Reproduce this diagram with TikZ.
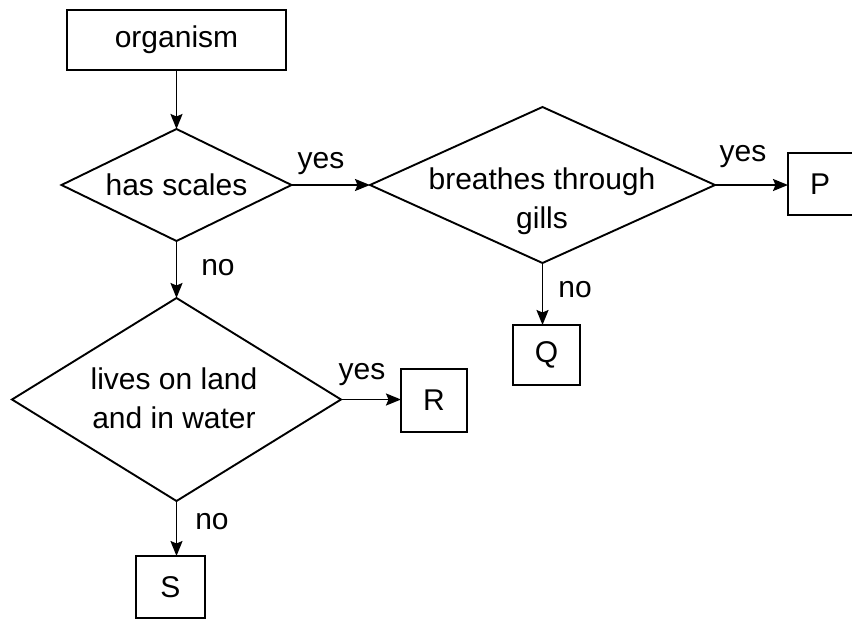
\documentclass[tikz,border=0pt]{standalone}
\usepackage{fontspec}
\setmainfont{Liberation Sans}
\usetikzlibrary{shapes.geometric,arrows.meta}
\begin{document}
\begin{tikzpicture}[x=1pt,y=-1pt,
  every node/.style={font=\fontsize{30pt}{39pt}\selectfont},
  box/.style={draw,line width=1.9pt,inner sep=0pt,outer sep=0pt},
  decision/.style={draw,diamond,line width=1.9pt,inner sep=0pt,outer sep=0pt},
  dtext/.style={align=center,inner sep=0pt},
  lab/.style={inner sep=0pt},
  conn/.style={line width=1.9pt,-{Stealth[length=15pt,width=12pt,inset=2.5pt]}}
]
\useasboundingbox (0,0) rectangle (852,619);

% boxes
\node[box,minimum width=219pt,minimum height=60pt] (org) at (176.5,40) {organism};
\node[box,minimum width=100pt,minimum height=62pt] (P) at (838,184) {};
\node[lab] (Pt) at (820,184) {P};
\node[box,minimum width=67pt,minimum height=60pt] (Q) at (546.5,355) {Q};
\node[box,minimum width=66pt,minimum height=63pt] (R) at (434,400.5) {R};
\node[box,minimum width=69pt,minimum height=62pt] (S) at (170.5,587) {S};

% decisions
\node[decision,minimum width=230pt,minimum height=112pt] (has) at (176.5,185) {};
\node[dtext] (hast) at (has.center) {has scales};
\node[decision,minimum width=345pt,minimum height=156pt] (br) at (542.5,185) {};
\node[dtext] (brt) at (542,201) {breathes through\\gills};
\node[decision,minimum width=329pt,minimum height=203pt] (lv) at (176.5,399.5) {};
\node[dtext] (lvt) at (174,398) {lives on land\\and in water};

% connectors
\draw[conn] (org.south) -- (has.north);
\draw[conn] (has.east) -- (br.west);
\draw[conn] (br.east) -- (br.east -| P.west);
\draw[conn] (br.south) -- (br.south |- Q.north);
\draw[conn] (has.south) -- (lv.north);
\draw[conn] (lv.east) -- (lv.east -| R.west);
\draw[conn] (lv.south) -- (lv.south |- S.north);

% labels
\node[lab] (y1) at (321,164) {yes};
\node[lab] (y2) at (743,157) {yes};
\node[lab] (n1) at (575,290) {no};
\node[lab] (n2) at (218,268) {no};
\node[lab] (y3) at (362,375) {yes};
\node[lab] (n3) at (212,522) {no};
\end{tikzpicture}
\end{document}
